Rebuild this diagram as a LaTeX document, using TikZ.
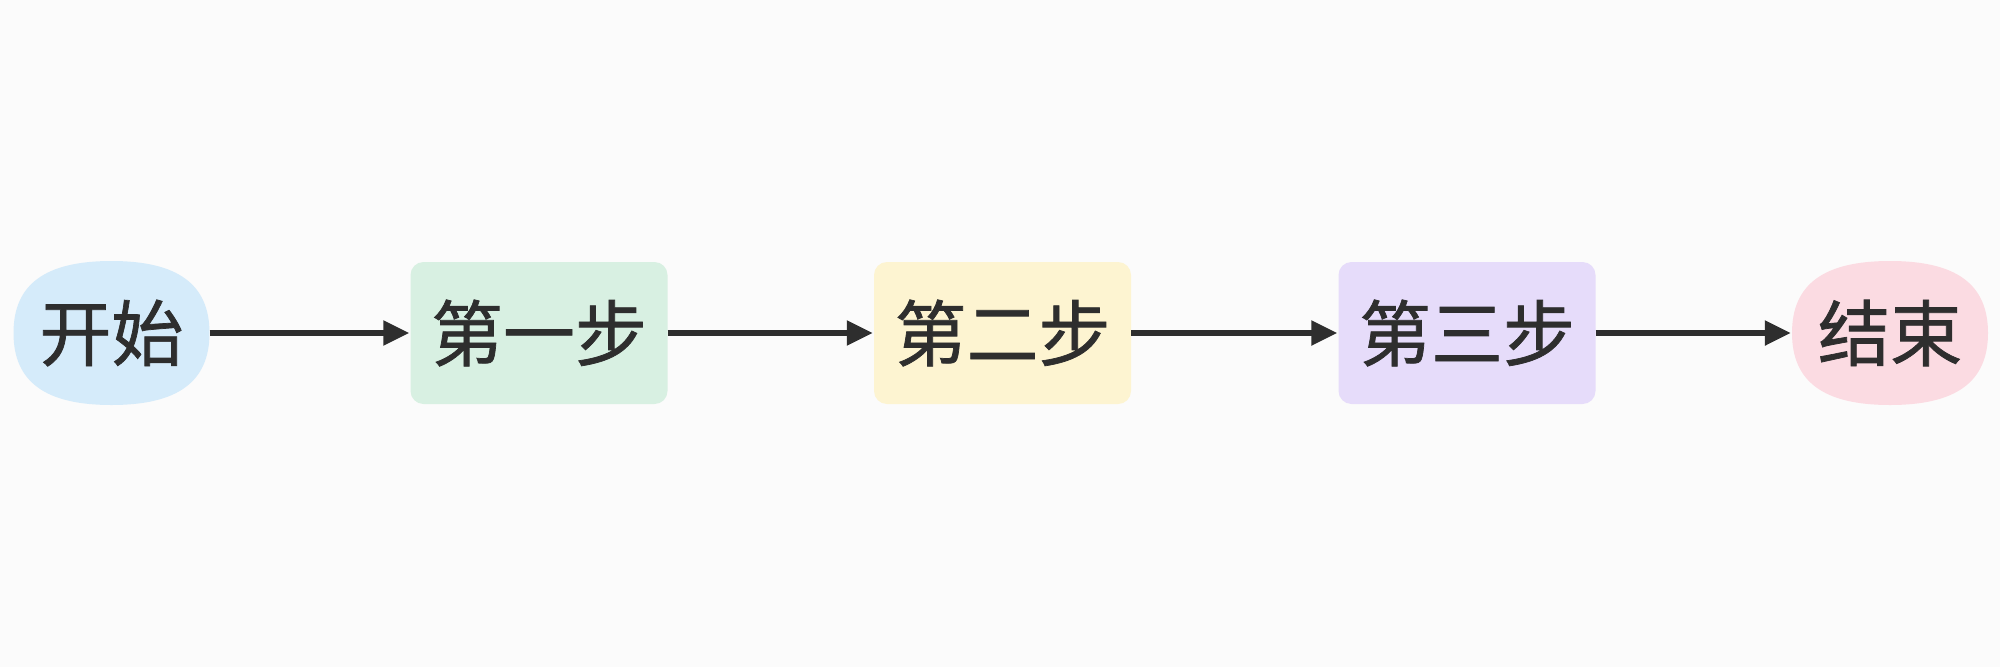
\documentclass[tikz,border=0pt]{standalone}
\usepackage{fontspec}
\newfontfamily\cjk[FakeBold=1.0]{Noto Sans CJK SC}
\usetikzlibrary{arrows.meta,backgrounds}
\definecolor{bgc}{HTML}{FBFBFB}
\definecolor{startc}{HTML}{D5EBFA}
\definecolor{onec}{HTML}{D8F0E2}
\definecolor{twoc}{HTML}{FDF4D1}
\definecolor{threec}{HTML}{E6DCFA}
\definecolor{endc}{HTML}{FBDBE2}
\definecolor{linec}{HTML}{2E2E2E}
\begin{document}
\begin{tikzpicture}[x=1pt,y=-1pt,
  txt/.style={font=\cjk\fontsize{72}{72}\selectfont, text=linec, inner sep=0pt},
  term/.style={txt, rectangle, minimum width=196pt, minimum height=144pt},
  stepbox/.style={txt, rounded corners=13pt, minimum width=257pt, minimum height=142pt},
  conn/.style={draw=linec, line width=5.5pt, -{Triangle[length=26pt,width=24pt]}, shorten >=1pt},
  squircle/.style={fill=#1}]
\useasboundingbox (0,0) rectangle (2000,667);
\node[term] (s) at (111.5,333) {开始};
\node[stepbox, fill=onec] (a) at (539,333) {第一步};
\node[stepbox, fill=twoc] (b) at (1002.5,333) {第二步};
\node[stepbox, fill=threec] (c) at (1467,333) {第三步};
\node[term] (e) at (1890,333) {结束};
\begin{scope}[on background layer]
\fill[bgc] (0,0) rectangle (2000,667);
\foreach \n/\col in {s/startc,e/endc}{
  \fill[squircle=\col, shift={(\n.center)}]
    (98,0) .. controls (98,49) and (66,72) .. (0,72)
    .. controls (-66,72) and (-98,49) .. (-98,0)
    .. controls (-98,-49) and (-66,-72) .. (0,-72)
    .. controls (66,-72) and (98,-49) .. (98,0) -- cycle;
}
\end{scope}
\draw[conn] (s.east) -- (a.west);
\draw[conn] (a.east) -- (b.west);
\draw[conn] (b.east) -- (c.west);
\draw[conn] (c.east) -- (e.west);
\end{tikzpicture}
\end{document}
